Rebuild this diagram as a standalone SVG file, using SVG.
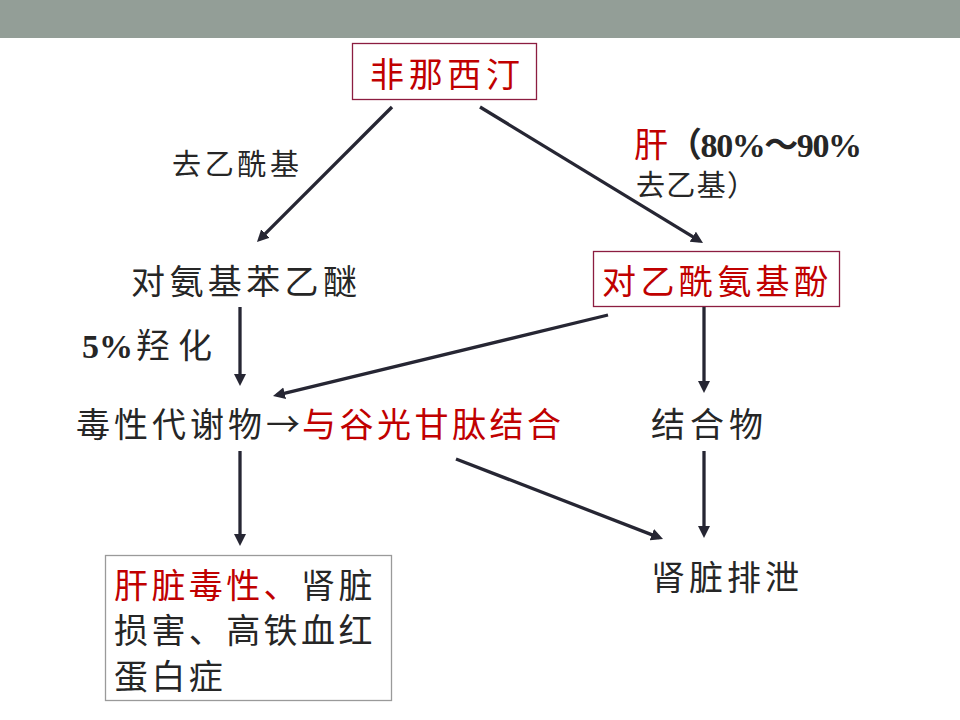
<svg xmlns="http://www.w3.org/2000/svg" width="960" height="720" viewBox="0 0 960 720">
<style>
.t{font-family:"Noto Sans CJK SC","Noto Sans CJK TC",sans-serif;font-size:34px;fill:#262626}
.r{fill:#C00000}
.lbl{font-size:29px}
.num{font-family:"Liberation Serif","Noto Sans CJK SC",serif;font-weight:bold}
.rb{fill:#fff;stroke:#8C1D40;stroke-width:1.3}
.gb{fill:#fff;stroke:#9a9a9a;stroke-width:1.3}
.c{stroke:#262633;stroke-width:3.3;fill:none;marker-end:url(#ah)}
</style>
<defs>
<marker id="ah" markerUnits="userSpaceOnUse" markerWidth="13" markerHeight="13" refX="8" refY="6" orient="auto">
<path d="M0,0 L12,6 L0,12 z" fill="#262633"/>
</marker>
</defs>
<rect width="960" height="720" fill="#fff"/>
<rect x="0" y="0" width="960" height="38" fill="#939E97"/>

<g id="n-phenacetin">
<rect class="rb" x="352.5" y="43.5" width="184" height="56"/>
<text class="t r" x="370" y="87" textLength="150" lengthAdjust="spacing">非那西汀</text>
</g>

<g id="n-phenetidine">
<text class="t" x="131" y="294" textLength="226" lengthAdjust="spacing">对氨基苯乙醚</text>
</g>

<g id="n-paracetamol">
<rect class="rb" x="593.5" y="251.5" width="246" height="55"/>
<text class="t r" x="602" y="294" textLength="226" lengthAdjust="spacing">对乙酰氨基酚</text>
</g>

<g id="n-toxic">
<text class="t" x="76" y="437" textLength="224" lengthAdjust="spacing">毒性代谢物→</text>
<text class="t r" x="302" y="437" textLength="259" lengthAdjust="spacing">与谷光甘肽结合</text>
</g>

<g id="n-conjugate">
<text class="t" x="651" y="437" textLength="112" lengthAdjust="spacing">结合物</text>
</g>

<g id="n-damage">
<rect class="gb" x="105.5" y="555.5" width="286" height="145"/>
<text class="t" x="114" y="598" letter-spacing="3.4"><tspan class="r">肝脏毒性、</tspan>肾脏</text>
<text class="t" x="114" y="643" letter-spacing="3.4">损害、高铁血红</text>
<text class="t" x="114" y="689" letter-spacing="3.4">蛋白症</text>
</g>

<g id="n-excretion">
<text class="t" x="651" y="590" textLength="148" lengthAdjust="spacing">肾脏排泄</text>
</g>

<g id="connectors">
<line class="c" x1="392" y1="107" x2="259.8" y2="239.2"/>
<line class="c" x1="480" y1="107" x2="699.6" y2="240.9"/>
<line class="c" x1="240" y1="307" x2="240" y2="382"/>
<line class="c" x1="608" y1="315" x2="276.9" y2="395.1"/>
<line class="c" x1="704" y1="307" x2="704" y2="389"/>
<line class="c" x1="240" y1="451" x2="240" y2="542"/>
<line class="c" x1="456" y1="459" x2="659.3" y2="537.6"/>
<line class="c" x1="704" y1="451" x2="704" y2="534"/>
</g>

<g id="labels">
<text class="t lbl" x="172" y="175" textLength="127" lengthAdjust="spacing">去乙酰基</text>
<text class="t r" x="634" y="157" font-size="32">肝</text>
<text class="t num" x="668" y="157" font-size="28" textLength="194" lengthAdjust="spacing">（80%～90%</text>
<text class="t lbl" x="636" y="196" textLength="120" lengthAdjust="spacing">去乙基）</text>
<text class="t num" x="82" y="358">5%</text>
<text class="t" x="136" y="358" textLength="76" lengthAdjust="spacing">羟化</text>
</g>
</svg>
